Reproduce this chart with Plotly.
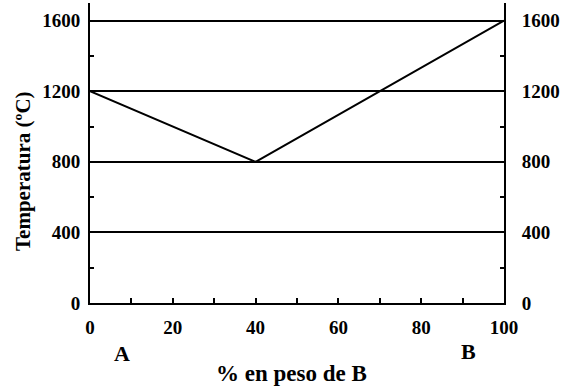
import plotly.graph_objects as go

# Data
liq_x = [0, 40, 100]          # % en peso de B
liq_t = [1200, 800, 1600]     # Temperatura (ºC)
x_ticks = [0, 20, 40, 60, 80, 100]
y_ticks = [0, 400, 800, 1200, 1600]

FONT = "Liberation Serif"

fig = go.Figure()
fig.add_trace(go.Scatter(x=liq_x, y=liq_t, mode="lines",
                         line=dict(color="black", width=2),
                         showlegend=False, hoverinfo="skip"))
# invisible trace for the right axis
fig.add_trace(go.Scatter(x=[0, 100], y=[0, 1700], yaxis="y2", mode="markers",
                         marker=dict(opacity=0), showlegend=False, hoverinfo="skip"))

fig.update_layout(
    width=567, height=389,
    margin=dict(l=90, r=63, t=3, b=86),
    paper_bgcolor="white", plot_bgcolor="white",
    font=dict(family=FONT, color="black"),
    xaxis=dict(range=[0, 100], tickvals=x_ticks, ticktext=[str(v) for v in x_ticks],
               showgrid=False, zeroline=False, automargin=False,
               showline=True, linecolor="black", linewidth=2,
               ticks="inside", ticklen=5, tickwidth=1.5, tickcolor="black",
               minor=dict(dtick=10, ticks="inside", ticklen=5, tickwidth=1.5, tickcolor="black"),
               tickfont=dict(family=FONT, size=19, color="black", weight="bold"),
               ticklabelstandoff=6),
    yaxis=dict(range=[0, 1700], tickvals=y_ticks, ticktext=[str(v) for v in y_ticks],
               showgrid=True, gridcolor="black", gridwidth=2, zeroline=False,
               showline=True, linecolor="black", linewidth=2, automargin=False,
               ticks="",
               minor=dict(tickvals=[200, 600, 1000, 1400], ticks="inside", ticklen=4,
                          tickwidth=1.5, tickcolor="black", showgrid=False),
               tickfont=dict(family=FONT, size=19, color="black", weight="bold"),
               ticklabelstandoff=4),
    yaxis2=dict(range=[0, 1700], overlaying="y", side="right",
                tickvals=y_ticks, ticktext=[str(v) for v in y_ticks],
                showgrid=False, zeroline=False, automargin=False,
                showline=True, linecolor="black", linewidth=2,
                ticks="",
                minor=dict(tickvals=[200, 600, 1000, 1400], ticks="inside", ticklen=4,
                           tickwidth=1.5, tickcolor="black", showgrid=False),
                tickfont=dict(family=FONT, size=19, color="black", weight="bold"),
                ticklabelstandoff=12),
)

annos = [
    dict(text="Temperatura (ºC)", x=23, y=171, textangle=-90, size=21),
    dict(text="% en peso de B", x=291, y=373, textangle=0, size=23),
    dict(text="A", x=122, y=353, textangle=0, size=22),
    dict(text="B", x=468, y=351, textangle=0, size=22),
]
for a in annos:
    fig.add_annotation(text=a["text"], xref="paper", yref="paper",
                       x=(a["x"] - 90) / (567 - 90 - 63),
                       y=1 - (a["y"] - 3) / (389 - 3 - 86),
                       xanchor="center", yanchor="middle", showarrow=False,
                       textangle=a["textangle"],
                       font=dict(family=FONT, size=a["size"], color="black", weight="bold"))

fig.write_html("out.html", config={"displayModeBar": False},
               post_script="document.body.style.margin='0';document.body.style.overflow='hidden';")
